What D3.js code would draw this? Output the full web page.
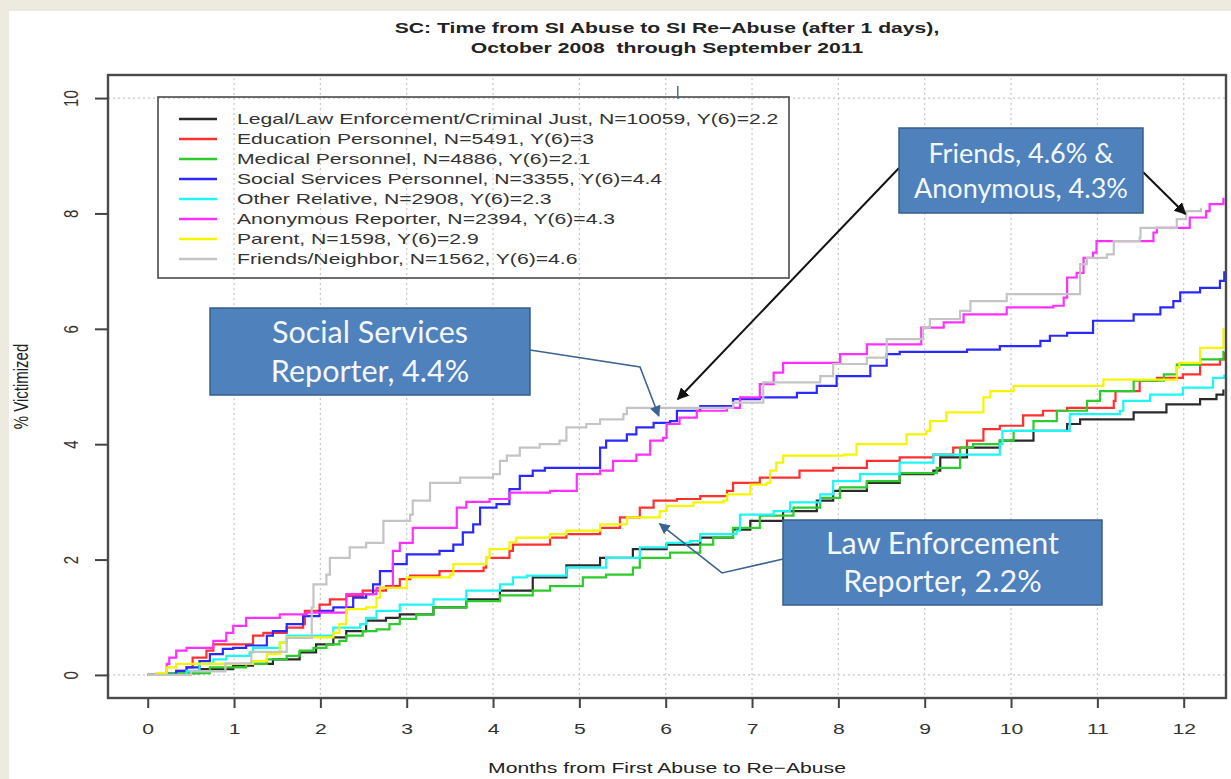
<!DOCTYPE html>
<html>
<head>
<meta charset="utf-8">
<script src="https://cdn.jsdelivr.net/npm/d3@7/dist/d3.min.js"></script>
<style>
  body { margin: 0; background: #fff; }
  svg { display: block; }
</style>
</head>
<body>
<svg id="chart" width="1231" height="779"></svg>
<script>
// ---- data: [months, % victimized] step corners ----
const xTicks = [0, 1, 2, 3, 4, 5, 6, 7, 8, 9, 10, 11, 12];
const yTicks = [0, 2, 4, 6, 8, 10];

const legalLaw = [[0,0],[0.45,0.03],[0.6,0.1],[0.99,0.16],[1.22,0.19],[1.45,0.27],[1.76,0.39],[1.95,0.53],[2.15,0.65],[2.3,0.76],[2.53,0.94],[2.76,0.99],[2.92,1.05],[3.31,1.17],[3.69,1.31],[4.08,1.46],[4.46,1.69],[4.85,1.9],[5.24,2.03],[5.62,2.18],[6.01,2.26],[6.4,2.38],[6.78,2.52],[6.98,2.67],[7.36,2.84],[7.75,3.02],[7.94,3.19],[8.33,3.33],[8.71,3.48],[9.1,3.54],[9.18,3.77],[9.49,3.94],[9.87,4.06],[10.26,4.23],[10.65,4.35],[10.8,4.43],[11.42,4.55],[11.8,4.69],[12.19,4.78],[12.38,4.86],[12.46,4.95]];
const education = [[0,0],[0.33,0.07],[0.45,0.13],[0.52,0.3],[0.68,0.42],[0.76,0.53],[1.22,0.68],[1.34,0.73],[1.61,0.82],[1.8,0.88],[1.82,1.11],[1.99,1.22],[2.11,1.31],[2.3,1.37],[2.49,1.46],[2.76,1.54],[2.92,1.66],[3.04,1.72],[3.38,1.8],[3.89,1.86],[3.92,2.03],[4.19,2.15],[4.23,2.26],[4.66,2.38],[4.85,2.44],[5.24,2.55],[5.47,2.73],[5.7,2.9],[5.86,3.02],[6.13,3.05],[6.4,3.1],[6.71,3.19],[6.78,3.33],[7.09,3.42],[7.55,3.54],[7.94,3.59],[8.33,3.71],[8.71,3.77],[9.1,3.82],[9.33,3.94],[9.49,4.06],[9.68,4.26],[9.87,4.32],[10.14,4.5],[10.37,4.58],[10.65,4.63],[11.19,4.75],[11.21,4.92],[11.49,5.1],[11.69,5.15],[11.99,5.21],[12.19,5.38],[12.42,5.47],[12.47,5.6]];
const medical = [[0,0],[0.22,0.03],[0.72,0.13],[1.14,0.19],[1.38,0.27],[1.61,0.33],[1.76,0.42],[1.92,0.47],[2.07,0.53],[2.22,0.59],[2.3,0.68],[2.49,0.76],[2.65,0.79],[2.8,0.88],[2.92,0.97],[3.11,1.05],[3.31,1.17],[3.69,1.28],[4.08,1.38],[4.46,1.46],[4.66,1.54],[5.04,1.69],[5.31,1.74],[5.62,1.86],[5.7,2.03],[6.05,2.12],[6.4,2.26],[6.55,2.38],[6.78,2.55],[7.09,2.76],[7.48,2.9],[7.79,3.07],[8.02,3.25],[8.33,3.36],[8.71,3.5],[9.14,3.59],[9.41,3.94],[9.56,4.0],[9.87,4.06],[10.03,4.23],[10.26,4.4],[10.53,4.58],[10.88,4.75],[11.03,4.92],[11.42,5.1],[11.77,5.21],[11.92,5.38],[12.19,5.47],[12.46,5.62]];
const socialServ = [[0,0],[0.18,0.01],[0.33,0.07],[0.45,0.13],[0.6,0.24],[0.72,0.36],[0.87,0.45],[0.99,0.47],[1.14,0.51],[1.38,0.68],[1.45,0.76],[1.61,0.88],[1.8,1.02],[1.99,1.11],[2.15,1.17],[2.38,1.34],[2.53,1.4],[2.61,1.57],[2.69,1.8],[2.84,1.92],[3.0,2.09],[3.38,2.15],[3.54,2.26],[3.65,2.47],[3.77,2.61],[3.85,2.9],[4.04,2.96],[4.19,3.22],[4.31,3.45],[4.46,3.54],[4.6,3.59],[5.24,3.94],[5.31,4.06],[5.55,4.17],[5.66,4.29],[5.86,4.37],[6.05,4.4],[6.13,4.58],[6.4,4.66],[6.78,4.78],[7.09,4.81],[7.52,4.89],[7.75,5.01],[7.98,5.18],[8.37,5.36],[8.56,5.56],[8.71,5.6],[9.49,5.64],[9.87,5.7],[10.34,5.79],[10.45,5.88],[10.65,5.93],[10.95,6.14],[11.42,6.25],[11.73,6.37],[11.88,6.48],[11.96,6.63],[12.19,6.71],[12.42,6.83],[12.47,7.0]];
const otherRel = [[0,0],[0.45,0.07],[0.6,0.19],[0.76,0.27],[0.91,0.33],[1.18,0.39],[1.22,0.47],[1.53,0.56],[1.61,0.68],[2.15,0.82],[2.46,0.88],[2.53,0.99],[2.65,1.11],[2.92,1.22],[3.31,1.31],[3.69,1.46],[4.08,1.57],[4.23,1.69],[4.39,1.72],[4.85,1.86],[5.31,2.03],[5.7,2.21],[6.01,2.29],[6.28,2.32],[6.4,2.44],[6.82,2.5],[6.86,2.78],[7.25,2.84],[7.44,2.99],[7.79,3.13],[7.94,3.36],[8.25,3.48],[8.71,3.68],[9.1,3.82],[9.87,4.0],[9.9,4.23],[10.68,4.52],[11.26,4.58],[11.3,4.75],[11.61,4.86],[11.99,4.98],[12.34,5.15],[12.47,5.21]];
const anonymous = [[0,0],[0.22,0.19],[0.25,0.3],[0.33,0.42],[0.45,0.47],[0.76,0.59],[0.91,0.73],[0.99,0.85],[1.14,0.99],[1.53,1.05],[1.84,1.08],[2.3,1.4],[2.65,1.51],[2.84,2.15],[2.92,2.29],[3.07,2.55],[3.58,2.9],[3.69,3.0],[3.96,3.05],[4.19,3.16],[4.66,3.19],[4.97,3.48],[5.24,3.54],[5.39,3.71],[5.66,3.82],[5.82,4.06],[5.97,4.11],[6.01,4.35],[6.16,4.46],[6.36,4.58],[6.71,4.63],[6.86,4.81],[7.09,5.04],[7.25,5.24],[7.36,5.41],[8.02,5.56],[8.33,5.73],[8.96,6.02],[9.22,6.11],[9.45,6.25],[9.95,6.37],[10.49,6.4],[10.61,6.54],[10.65,6.89],[10.76,6.97],[10.84,7.23],[10.95,7.32],[10.99,7.52],[11.65,7.67],[11.69,7.75],[12.07,7.93],[12.26,8.04],[12.3,8.16],[12.46,8.27]];
const parent = [[0,0],[0.1,0.03],[0.22,0.13],[0.33,0.19],[1.22,0.24],[1.38,0.36],[1.53,0.56],[1.61,0.65],[2.15,0.73],[2.22,0.88],[2.3,1.14],[2.53,1.17],[2.65,1.34],[2.69,1.51],[3.0,1.69],[3.5,1.74],[3.54,1.92],[3.92,2.03],[3.96,2.18],[4.19,2.3],[4.27,2.38],[4.66,2.44],[4.85,2.5],[5.24,2.61],[5.55,2.73],[5.93,2.84],[6.01,2.93],[6.32,2.99],[6.67,3.02],[6.71,3.13],[6.98,3.3],[7.17,3.33],[7.21,3.54],[7.28,3.68],[7.36,3.8],[8.06,3.82],[8.21,4.0],[8.79,4.17],[9.02,4.23],[9.06,4.4],[9.25,4.55],[9.68,4.81],[9.76,4.92],[10.03,5.01],[11.07,5.12],[11.92,5.33],[11.95,5.41],[12.19,5.67],[12.46,6.02]];
const friends = [[0,0],[0.5,0.06],[0.9,0.2],[1.2,0.4],[1.61,0.64],[1.9,1.17],[1.92,1.57],[2.07,1.74],[2.11,2.03],[2.34,2.21],[2.53,2.29],[2.73,2.67],[3.04,2.78],[3.07,3.02],[3.27,3.33],[3.62,3.42],[4.0,3.48],[4.08,3.71],[4.16,3.8],[4.31,3.94],[4.54,4.0],[4.77,4.06],[4.85,4.29],[5.08,4.35],[5.24,4.43],[5.51,4.52],[5.55,4.63],[6.78,4.72],[7.13,5.07],[7.79,5.18],[7.94,5.39],[8.33,5.5],[8.56,5.82],[8.98,6.02],[9.06,6.17],[9.41,6.31],[9.53,6.48],[9.95,6.6],[10.8,7.12],[10.88,7.23],[11.11,7.29],[11.19,7.52],[11.49,7.58],[11.5,7.75],[11.92,7.9],[12.03,8.04],[12.2,8.1]];

const seriesNames = [
  "Legal/Law Enforcement/Criminal Just, N=10059, Y(6)=2.2",
  "Education Personnel, N=5491, Y(6)=3",
  "Medical Personnel, N=4886, Y(6)=2.1",
  "Social Services Personnel, N=3355, Y(6)=4.4",
  "Other Relative, N=2908, Y(6)=2.3",
  "Anonymous Reporter, N=2394, Y(6)=4.3",
  "Parent, N=1598, Y(6)=2.9",
  "Friends/Neighbor, N=1562, Y(6)=4.6"
];
const seriesData = [legalLaw, education, medical, socialServ, otherRel, anonymous, parent, friends];
const seriesColors = ["#2a2a2a", "#ff3030", "#2ccc2c", "#2a2aff", "#1ef5f5", "#ff30ff", "#f5f500", "#c4c4c4"];

// ---- layout ----
const W = 1231, H = 779;
const L = 108, R = 1226, T = 75, B = 698;
const SX = 1.41;                 // the original plot is stretched sideways
const rFont = '"Liberation Sans", Arial, Helvetica, sans-serif';

const svg = d3.select('#chart');

// page frame
svg.append('rect').attr('width', W).attr('height', H).attr('fill', '#edeae0');
svg.append('rect').attr('x', 9).attr('y', 11).attr('width', W - 9).attr('height', H - 11).attr('fill', '#fff');

const x = d3.scaleLinear().domain([-0.46, 12.49]).range([L, R]);
const y = d3.scaleLinear().domain([-0.4, 10.4]).range([B, T]);

// grid: dotted verticals at months, dotted h-lines at 0 and 10
const grid = svg.append('g').attr('stroke', '#c8c8c8').attr('stroke-width', 1.2).attr('stroke-dasharray', '2,3');
grid.selectAll('line.v').data(xTicks.filter(d => d > 0)).join('line')
  .attr('x1', d => x(d)).attr('x2', d => x(d)).attr('y1', T + 3).attr('y2', B - 3);
grid.selectAll('line.h').data([0, 10]).join('line')
  .attr('x1', L).attr('x2', R).attr('y1', d => y(d)).attr('y2', d => y(d));

// step curves
const line = d3.line().x(d => x(d[0])).y(d => y(d[1])).curve(d3.curveStepAfter);
svg.append('g').selectAll('path').data(seriesData).join('path')
  .attr('d', line)
  .attr('fill', 'none')
  .attr('stroke', (d, i) => seriesColors[i])
  .attr('stroke-width', 2.2);

// plot box
svg.append('rect').attr('x', L).attr('y', T).attr('width', R - L).attr('height', B - T)
  .attr('fill', 'none').attr('stroke', '#4a4a4a').attr('stroke-width', 2.4);

// axes
const gx = svg.append('g').attr('transform', `translate(0,${B})`)
  .call(d3.axisBottom(x).tickValues(xTicks).tickSize(10).tickSizeOuter(0));
gx.select('.domain').remove();
gx.selectAll('.tick line').attr('stroke', '#444').attr('stroke-width', 2);
gx.selectAll('.tick text')
  .attr('y', 36).attr('dy', 0)
  .attr('transform', `scale(${SX},1)`)
  .attr('fill', '#333').style('font-family', rFont).style('font-size', '15px');

const gy = svg.append('g').attr('transform', `translate(${L},0)`)
  .call(d3.axisLeft(y).tickValues(yTicks).tickSize(13).tickSizeOuter(0));
gy.select('.domain').remove();
gy.selectAll('.tick line').attr('stroke', '#444').attr('stroke-width', 2);
gy.selectAll('.tick text')
  .attr('x', 0).attr('dy', 0).attr('text-anchor', 'middle')
  .attr('transform', `translate(${77.5 - L},0) scale(${SX},1) rotate(-90)`)
  .attr('fill', '#333').style('font-family', rFont).style('font-size', '15px');

// stretched R-style text helper
function rText(str, px, py, opts = {}) {
  return svg.append('text')
    .attr('transform', `translate(${px},${py}) scale(${SX},1)` + (opts.rotate ? ` rotate(${opts.rotate})` : ''))
    .attr('text-anchor', opts.anchor || 'middle')
    .attr('fill', opts.fill || '#222')
    .style('font-family', rFont)
    .style('font-size', (opts.size || 15) + 'px')
    .style('font-weight', opts.bold ? 'bold' : 'normal')
    .text(str);
}

rText('SC: Time from SI Abuse to SI Re\u2212Abuse (after 1 days),', (L + R) / 2, 33, { bold: true });
rText('October 2008\u00a0 through September 2011', (L + R) / 2, 53, { bold: true });
rText('Months from First Abuse to Re\u2212Abuse', (L + R) / 2, 773);
rText('% Victimized', 27.5, (T + B) / 2, { rotate: -90 });

// legend (transparent box like R)
const legX = 158, legY = 97, legW = 631, legH = 181, rowH = 20;
svg.append('rect').attr('x', legX).attr('y', legY).attr('width', legW).attr('height', legH)
  .attr('fill', 'none').attr('stroke', '#4a4a4a').attr('stroke-width', 1.6);
seriesNames.forEach((name, i) => {
  const cy = legY + 22 + i * rowH;
  svg.append('line').attr('x1', legX + 21).attr('x2', legX + 59).attr('y1', cy).attr('y2', cy)
    .attr('stroke', seriesColors[i]).attr('stroke-width', 2.6);
  rText(name, legX + 79, cy + 5.4, { anchor: 'start', fill: '#333' });
});

// stray connector tick near the top of the plot
svg.append('line').attr('x1', x(6.14)).attr('x2', x(6.14)).attr('y1', 86).attr('y2', 99)
  .attr('stroke', '#4470a8').attr('stroke-width', 1.5);

// ---- callouts ----
const defs = svg.append('defs');
function marker(id, color, size) {
  defs.append('marker').attr('id', id).attr('viewBox', '0 0 10 10')
    .attr('refX', 9).attr('refY', 5).attr('markerWidth', size).attr('markerHeight', size)
    .attr('orient', 'auto-start-reverse').attr('markerUnits', 'userSpaceOnUse')
    .append('path').attr('d', 'M0,0 L10,5 L0,10 z').attr('fill', color);
}
marker('arrBlack', '#111', 12);
marker('arrBlue', '#3d6491', 11);

const calloutFont = 'Lato, "Open Sans", sans-serif';
function callout(bx, by, bw, bh, lines, size, gap) {
  svg.append('rect').attr('x', bx).attr('y', by).attr('width', bw).attr('height', bh)
    .attr('fill', '#4f81bd').attr('stroke', '#385d8a').attr('stroke-width', 1.5);
  lines.forEach((t, i) => {
    svg.append('text')
      .attr('x', bx + bw / 2)
      .attr('y', by + bh / 2 + (i - (lines.length - 1) / 2) * gap + size * 0.36)
      .attr('text-anchor', 'middle').attr('fill', '#f4f7fb')
      .style('font-family', calloutFont).style('font-size', size + 'px')
      .text(t);
  });
}

// connectors (tips pinned to the data scales)
svg.append('path')
  .attr('d', `M530,350 L640,367 L${x(5.92)},${y(4.49)}`)
  .attr('fill', 'none').attr('stroke', '#3d6491').attr('stroke-width', 1.6)
  .attr('marker-end', 'url(#arrBlue)');
svg.append('path')
  .attr('d', `M783,559 L722,573 L${x(5.93)},${y(2.62)}`)
  .attr('fill', 'none').attr('stroke', '#3d6491').attr('stroke-width', 1.6)
  .attr('marker-end', 'url(#arrBlue)');
svg.append('line').attr('x1', 899).attr('y1', 168).attr('x2', x(6.14)).attr('y2', y(4.78))
  .attr('stroke', '#111').attr('stroke-width', 2).attr('marker-end', 'url(#arrBlack)');
svg.append('line').attr('x1', 1143).attr('y1', 172).attr('x2', x(12.02)).attr('y2', y(7.99))
  .attr('stroke', '#111').attr('stroke-width', 2).attr('marker-end', 'url(#arrBlack)');

callout(210, 308, 320, 87, ['Social Services', 'Reporter, 4.4%'], 30.5, 39);
callout(899, 128, 244, 85, ['Friends, 4.6% &', 'Anonymous, 4.3%'], 27, 35);
callout(783, 520, 319, 85, ['Law Enforcement', 'Reporter, 2.2%'], 30.5, 38);
</script>
</body>
</html>
